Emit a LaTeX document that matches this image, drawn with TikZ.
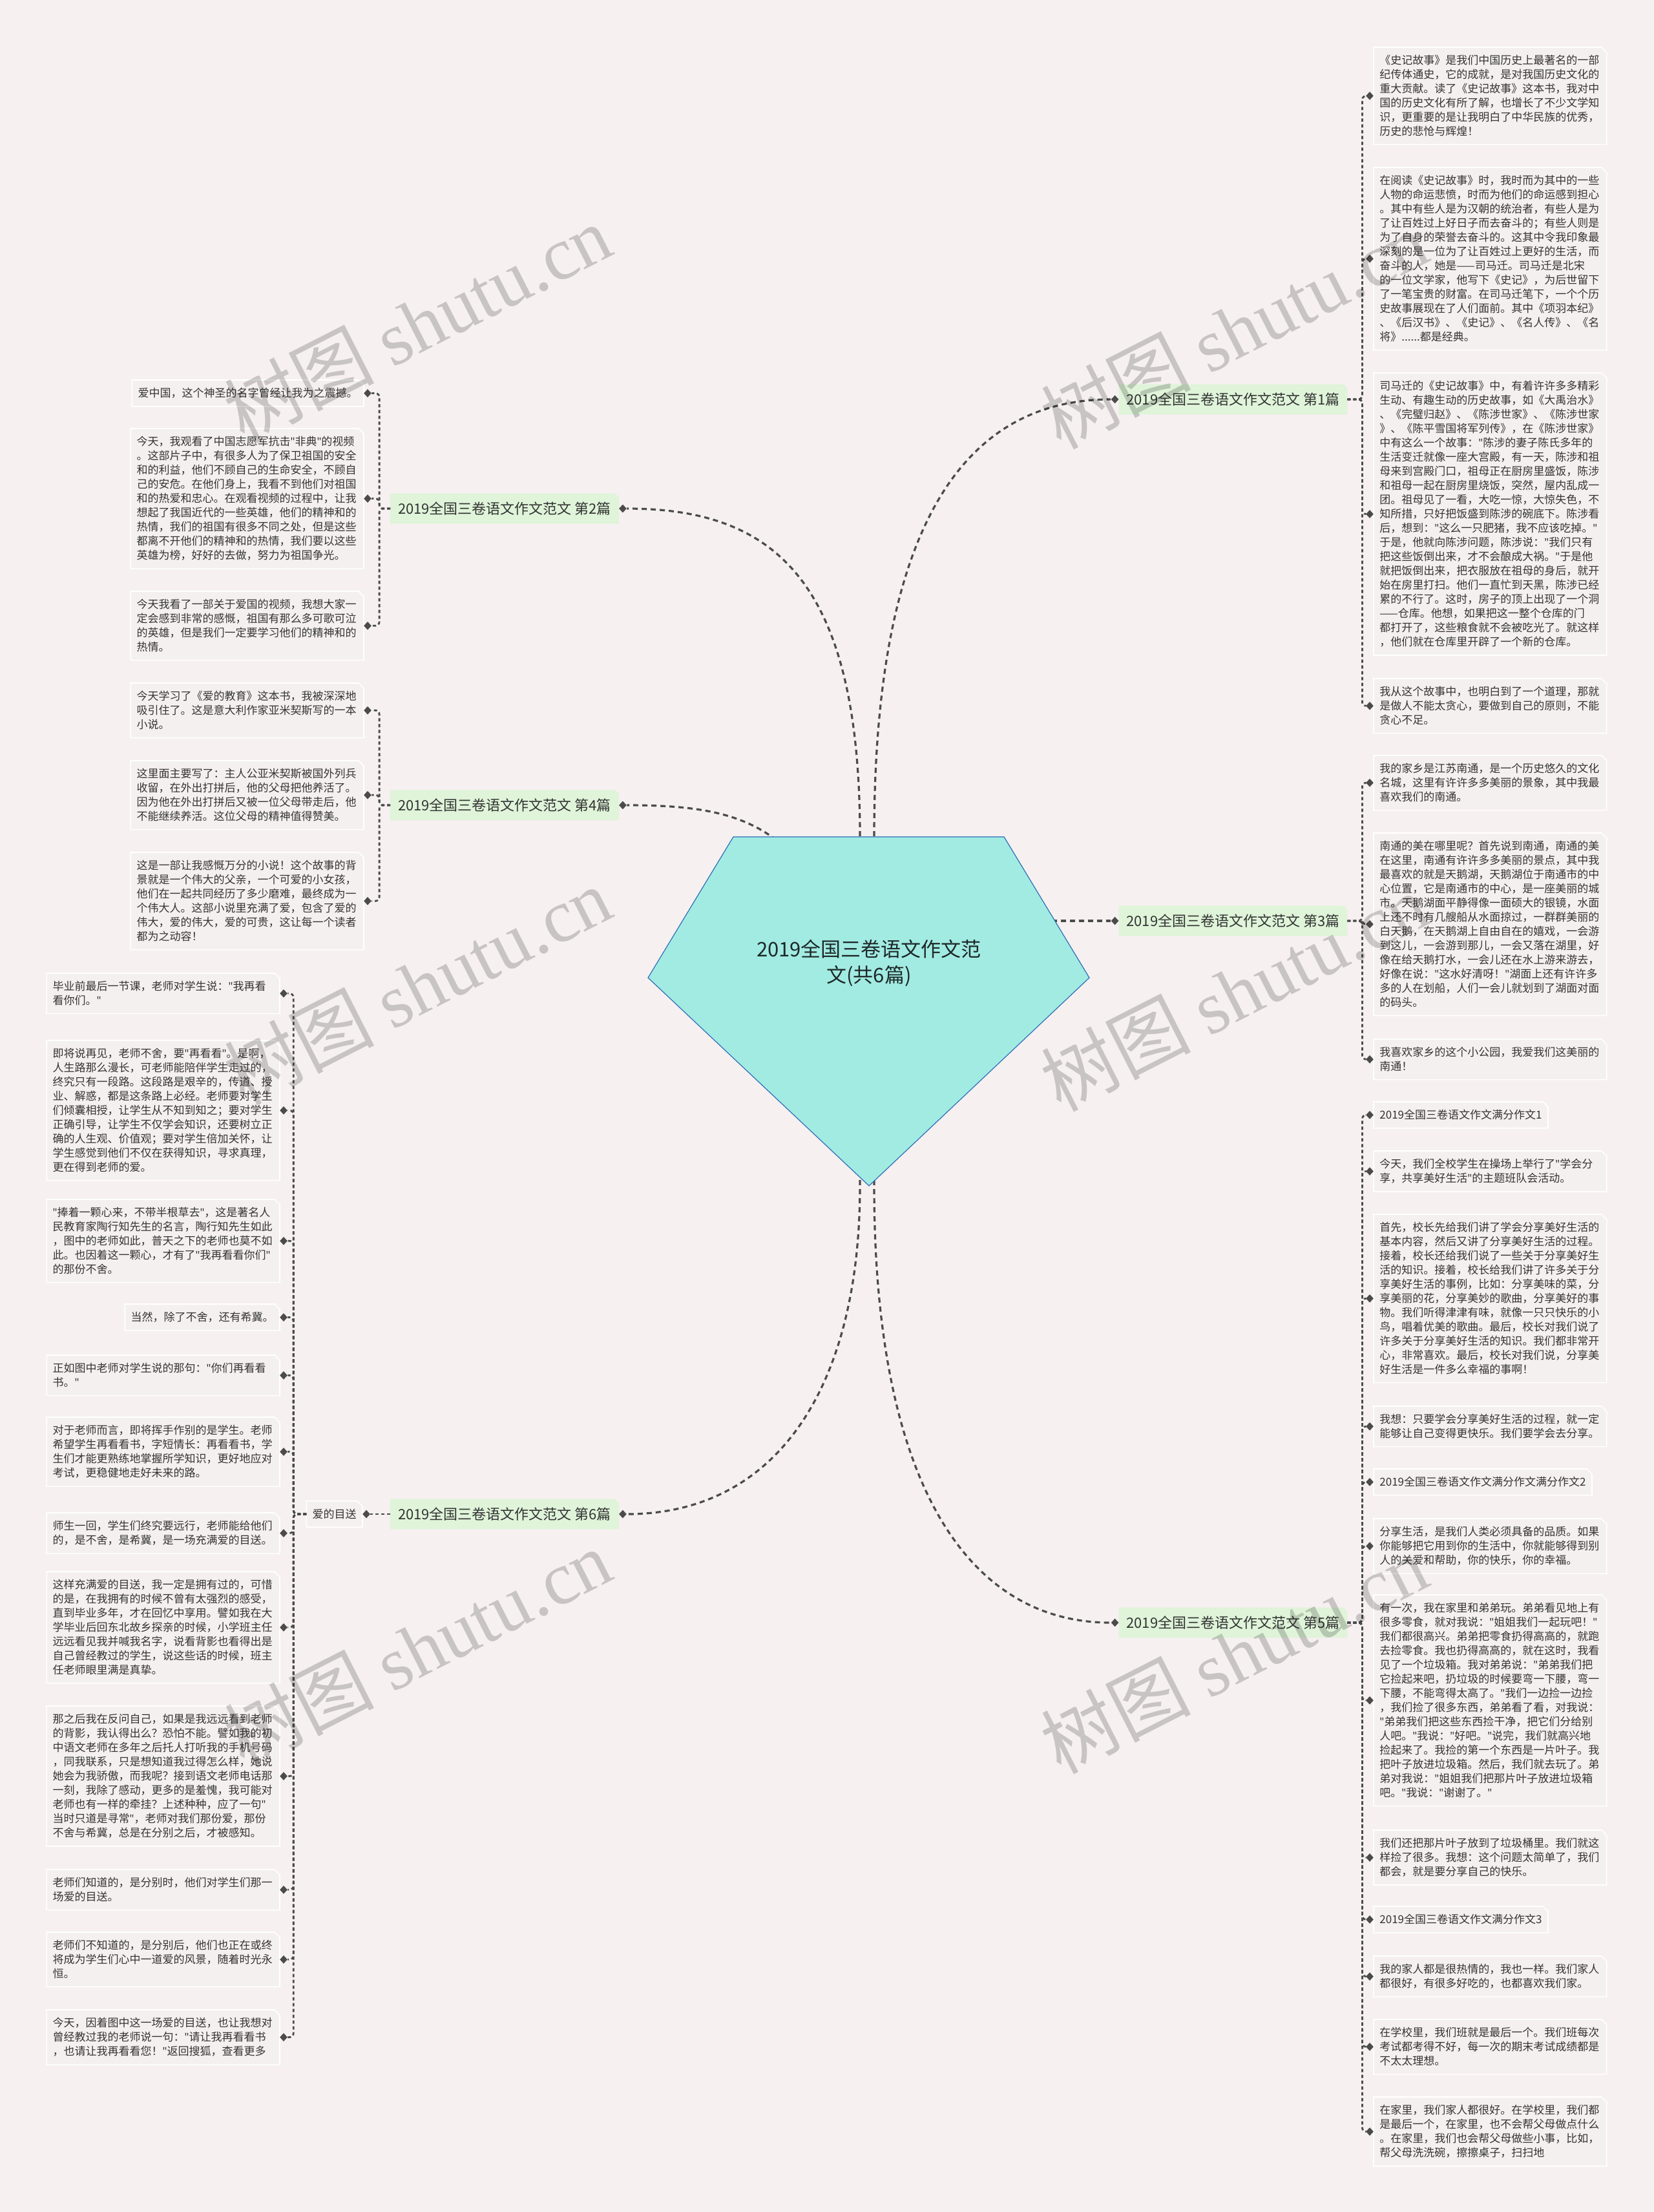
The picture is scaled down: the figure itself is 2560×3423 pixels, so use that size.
\documentclass[tikz,border=0pt]{standalone}
\usepackage{fontspec}
\setmainfont{Noto Sans CJK SC}
\newfontfamily\wmserif{Liberation Serif}
\newfontfamily\qfont{Noto Sans}
\newcommand\qq{{\qfont"}}
\usetikzlibrary{shapes.geometric,calc}
\definecolor{bgc}{RGB}{246,240,240}
\definecolor{boxc}{RGB}{245,240,240}
\definecolor{txt}{RGB}{51,51,51}
\definecolor{brc}{RGB}{223,244,217}
\definecolor{conc}{RGB}{75,75,75}
\definecolor{pentf}{RGB}{161,235,226}
\definecolor{pentd}{RGB}{46,110,184}
\pgfdeclarelayer{back}
\pgfsetlayers{back,main}
\newcommand\leaffont{\fontsize{8.5pt}{11pt}\selectfont}
\newcommand\brfont{\fontsize{11pt}{13pt}\selectfont}
\newcommand\rootfont{\fontsize{15.5pt}{20pt}\selectfont}
\newcommand\wmfont{\fontsize{58pt}{60pt}\selectfont}
\begin{document}
\begin{tikzpicture}[x=0.5pt,y=-0.5pt,
  leaf/.style={align=left, font=\leaffont, text=txt, inner xsep=4.5pt, inner ysep=6pt, text width=171pt},
  leafs/.style={align=left, font=\leaffont, text=txt, inner xsep=4.5pt, inner ysep=6pt},
  branch/.style={font=\brfont, text=txt, minimum width=176.5pt, minimum height=23pt, inner sep=0pt},
  dia/.style={diamond, fill=conc, inner sep=0pt, minimum width=6pt, minimum height=6.5pt},
  mconn/.style={draw=conc, line width=1.6pt, dash pattern=on 4pt off 3pt},
  lconn/.style={draw=conc, line width=1.4pt, dash pattern=on 2.5pt off 2pt, rounded corners=3pt},
  boxline/.style={fill=boxc, draw=white, line width=0.8pt},
  brbox/.style={fill=brc},
  wm/.style={text=black, text opacity=0.18, font=\wmfont}
]
\useasboundingbox (0,0) rectangle (2560,3423);
\begin{pgfonlayer}{back}
\fill[bgc] (0,0) rectangle (2560,3423);
\end{pgfonlayer}

% ---------- branch nodes ----------
\node[branch] (b1) at (1908.5,618) {2019全国三卷语文作文范文 第1篇};
\node[branch] (b2) at (781,787) {2019全国三卷语文作文范文 第2篇};
\node[branch] (b3) at (1908.5,1425) {2019全国三卷语文作文范文 第3篇};
\node[branch] (b4) at (781,1246) {2019全国三卷语文作文范文 第4篇};
\node[branch] (b5) at (1908.5,2511) {2019全国三卷语文作文范文 第5篇};
\node[branch] (b6) at (781,2343) {2019全国三卷语文作文范文 第6篇};
\node[leafs, anchor=east] (m6) at (561,2343) {爱的目送};

% ---------- right leaves: branch 1 ----------
\node[leaf, anchor=north west] (r1a) at (2126,73) {《史记故事》是我们中国历史上最著名的一部\\纪传体通史，它的成就，是对我国历史文化的\\重大贡献。读了《史记故事》这本书，我对中\\国的历史文化有所了解，也增长了不少文学知\\识，更重要的是让我明白了中华民族的优秀，\\历史的悲怆与辉煌！};
\node[leaf, anchor=north west] (r1b) at (2126,259) {在阅读《史记故事》时，我时而为其中的一些\\人物的命运悲愤，时而为他们的命运感到担心\\。其中有些人是为汉朝的统治者，有些人是为\\了让百姓过上好日子而去奋斗的；有些人则是\\为了自身的荣誉去奋斗的。这其中令我印象最\\深刻的是一位为了让百姓过上更好的生活，而\\奋斗的人，她是——司马迁。司马迁是北宋\\的一位文学家，他写下《史记》，为后世留下\\了一笔宝贵的财富。在司马迁笔下，一个个历\\史故事展现在了人们面前。其中《项羽本纪》\\、《后汉书》、《史记》、《名人传》、《名\\将》......都是经典。};
\node[leaf, anchor=north west] (r1c) at (2126,577) {司马迁的《史记故事》中，有着许许多多精彩\\生动、有趣生动的历史故事，如《大禹治水》\\、《完璧归赵》、《陈涉世家》、《陈涉世家\\》、《陈平雪国将军列传》，在《陈涉世家》\\中有这么一个故事：\qq{}陈涉的妻子陈氏多年的\\生活变迁就像一座大宫殿，有一天，陈涉和祖\\母来到宫殿门口，祖母正在厨房里盛饭，陈涉\\和祖母一起在厨房里烧饭，突然，屋内乱成一\\团。祖母见了一看，大吃一惊，大惊失色，不\\知所措，只好把饭盛到陈涉的碗底下。陈涉看\\后，想到：\qq{}这么一只肥猪，我不应该吃掉。\qq{}\\于是，他就向陈涉问题，陈涉说：\qq{}我们只有\\把这些饭倒出来，才不会酿成大祸。\qq{}于是他\\就把饭倒出来，把衣服放在祖母的身后，就开\\始在房里打扫。他们一直忙到天黑，陈涉已经\\累的不行了。这时，房子的顶上出现了一个洞\\——仓库。他想，如果把这一整个仓库的门\\都打开了，这些粮食就不会被吃光了。就这样\\，他们就在仓库里开辟了一个新的仓库。};
\node[leaf, anchor=north west] (r1d) at (2126,1050) {我从这个故事中，也明白到了一个道理，那就\\是做人不能太贪心，要做到自己的原则，不能\\贪心不足。};

% ---------- right leaves: branch 3 ----------
\node[leaf, anchor=north west] (r3a) at (2126,1169) {我的家乡是江苏南通，是一个历史悠久的文化\\名城，这里有许许多多美丽的景象，其中我最\\喜欢我们的南通。};
\node[leaf, anchor=north west] (r3b) at (2126,1289) {南通的美在哪里呢？首先说到南通，南通的美\\在这里，南通有许许多多美丽的景点，其中我\\最喜欢的就是天鹅湖，天鹅湖位于南通市的中\\心位置，它是南通市的中心，是一座美丽的城\\市。天鹅湖面平静得像一面硕大的银镜，水面\\上还不时有几艘船从水面掠过，一群群美丽的\\白天鹅，在天鹅湖上自由自在的嬉戏，一会游\\到这儿，一会游到那儿，一会又落在湖里，好\\像在给天鹅打水，一会儿还在水上游来游去，\\好像在说：\qq{}这水好清呀！\qq{}湖面上还有许许多\\多的人在划船，人们一会儿就划到了湖面对面\\的码头。};
\node[leaf, anchor=north west] (r3c) at (2126,1608) {我喜欢家乡的这个小公园，我爱我们这美丽的\\南通！};

% ---------- right leaves: branch 5 ----------
\node[leafs, anchor=north west] (r5a) at (2126,1705) {2019全国三卷语文作文满分作文1};
\node[leaf, anchor=north west] (r5b) at (2126,1781) {今天，我们全校学生在操场上举行了\qq{}学会分\\享，共享美好生活\qq{}的主题班队会活动。};
\node[leaf, anchor=north west] (r5c) at (2126,1879) {首先，校长先给我们讲了学会分享美好生活的\\基本内容，然后又讲了分享美好生活的过程。\\接着，校长还给我们说了一些关于分享美好生\\活的知识。接着，校长给我们讲了许多关于分\\享美好生活的事例，比如：分享美味的菜，分\\享美丽的花，分享美妙的歌曲，分享美好的事\\物。我们听得津津有味，就像一只只快乐的小\\鸟，唱着优美的歌曲。最后，校长对我们说了\\许多关于分享美好生活的知识。我们都非常开\\心，非常喜欢。最后，校长对我们说，分享美\\好生活是一件多么幸福的事啊！};
\node[leaf, anchor=north west] (r5d) at (2126,2176) {我想：只要学会分享美好生活的过程，就一定\\能够让自己变得更快乐。我们要学会去分享。};
\node[leafs, anchor=north west] (r5e) at (2126,2273) {2019全国三卷语文作文满分作文满分作文2};
\node[leaf, anchor=north west] (r5f) at (2126,2350) {分享生活，是我们人类必须具备的品质。如果\\你能够把它用到你的生活中，你就能够得到别\\人的关爱和帮助，你的快乐，你的幸福。};
\node[leaf, anchor=north west] (r5g) at (2126,2468) {有一次，我在家里和弟弟玩。弟弟看见地上有\\很多零食，就对我说：\qq{}姐姐我们一起玩吧！\qq{}\\我们都很高兴。弟弟把零食扔得高高的，就跑\\去捡零食。我也扔得高高的，就在这时，我看\\见了一个垃圾箱。我对弟弟说：\qq{}弟弟我们把\\它捡起来吧，扔垃圾的时候要弯一下腰，弯一\\下腰，不能弯得太高了。\qq{}我们一边捡一边捡\\，我们捡了很多东西，弟弟看了看，对我说：\\\qq{}弟弟我们把这些东西捡干净，把它们分给别\\人吧。\qq{}我说：\qq{}好吧。\qq{}说完，我们就高兴地\\捡起来了。我捡的第一个东西是一片叶子。我\\把叶子放进垃圾箱。然后，我们就去玩了。弟\\弟对我说：\qq{}姐姐我们把那片叶子放进垃圾箱\\吧。\qq{}我说：\qq{}谢谢了。\qq{}};
\node[leaf, anchor=north west] (r5h) at (2126,2832) {我们还把那片叶子放到了垃圾桶里。我们就这\\样捡了很多。我想：这个问题太简单了，我们\\都会，就是要分享自己的快乐。};
\node[leafs, anchor=north west] (r5i) at (2126,2950) {2019全国三卷语文作文满分作文3};
\node[leaf, anchor=north west] (r5j) at (2126,3027) {我的家人都是很热情的，我也一样。我们家人\\都很好，有很多好吃的，也都喜欢我们家。};
\node[leaf, anchor=north west] (r5k) at (2126,3125) {在学校里，我们班就是最后一个。我们班每次\\考试都考得不好，每一次的期末考试成绩都是\\不太太理想。};
\node[leaf, anchor=north west] (r5l) at (2126,3245) {在家里，我们家人都很好。在学校里，我们都\\是最后一个，在家里，也不会帮父母做点什么\\。在家里，我们也会帮父母做些小事，比如，\\帮父母洗洗碗，擦擦桌子，扫扫地};

% ---------- left leaves: branch 2 ----------
\node[leafs, anchor=north east] (l2a) at (563,588) {爱中国，这个神圣的名字曾经让我为之震撼。};
\node[leaf, anchor=north east] (l2b) at (563,663) {今天，我观看了中国志愿军抗击\qq{}非典\qq{}的视频\\。这部片子中，有很多人为了保卫祖国的安全\\和的利益，他们不顾自己的生命安全，不顾自\\己的安危。在他们身上，我看不到他们对祖国\\和的热爱和忠心。在观看视频的过程中，让我\\想起了我国近代的一些英雄，他们的精神和的\\热情，我们的祖国有很多不同之处，但是这些\\都离不开他们的精神和的热情，我们要以这些\\英雄为榜，好好的去做，努力为祖国争光。};
\node[leaf, anchor=north east] (l2c) at (563,915) {今天我看了一部关于爱国的视频，我想大家一\\定会感到非常的感慨，祖国有那么多可歌可泣\\的英雄，但是我们一定要学习他们的精神和的\\热情。};

% ---------- left leaves: branch 4 ----------
\node[leaf, anchor=north east] (l4a) at (563,1057) {今天学习了《爱的教育》这本书，我被深深地\\吸引住了。这是意大利作家亚米契斯写的一本\\小说。};
\node[leaf, anchor=north east] (l4b) at (563,1177) {这里面主要写了：主人公亚米契斯被国外列兵\\收留，在外出打拼后，他的父母把他养活了。\\因为他在外出打拼后又被一位父母带走后，他\\不能继续养活。这位父母的精神值得赞美。};
\node[leaf, anchor=north east] (l4c) at (563,1319) {这是一部让我感慨万分的小说！这个故事的背\\景就是一个伟大的父亲，一个可爱的小女孩，\\他们在一起共同经历了多少磨难，最终成为一\\个伟大人。这部小说里充满了爱，包含了爱的\\伟大，爱的伟大，爱的可贵，这让每一个读者\\都为之动容！};

% ---------- left leaves: branch 6 ----------
\node[leaf, anchor=north east] (l6a) at (433,1506) {毕业前最后一节课，老师对学生说：\qq{}我再看\\看你们。\qq{}};
\node[leaf, anchor=north east] (l6b) at (433,1610) {即将说再见，老师不舍，要\qq{}再看看\qq{}。是啊，\\人生路那么漫长，可老师能陪伴学生走过的，\\终究只有一段路。这段路是艰辛的，传道、授\\业、解惑，都是这条路上必经。老师要对学生\\们倾囊相授，让学生从不知到知之；要对学生\\正确引导，让学生不仅学会知识，还要树立正\\确的人生观、价值观；要对学生倍加关怀，让\\学生感觉到他们不仅在获得知识，寻求真理，\\更在得到老师的爱。};
\node[leaf, anchor=north east] (l6c) at (433,1856) {\qq{}捧着一颗心来，不带半根草去\qq{}，这是著名人\\民教育家陶行知先生的名言，陶行知先生如此\\，图中的老师如此，普天之下的老师也莫不如\\此。也因着这一颗心，才有了\qq{}我再看看你们\qq{}\\的那份不舍。};
\node[leafs, anchor=north east] (l6d) at (433,2018) {当然，除了不舍，还有希冀。};
\node[leaf, anchor=north east] (l6e) at (433,2097) {正如图中老师对学生说的那句：\qq{}你们再看看\\书。\qq{}};
\node[leaf, anchor=north east] (l6f) at (433,2193) {对于老师而言，即将挥手作别的是学生。老师\\希望学生再看看书，字短情长：再看看书，学\\生们才能更熟练地掌握所学知识，更好地应对\\考试，更稳健地走好未来的路。};
\node[leaf, anchor=north east] (l6g) at (433,2341) {师生一回，学生们终究要远行，老师能给他们\\的，是不舍，是希冀，是一场充满爱的目送。};
\node[leaf, anchor=north east] (l6h) at (433,2432) {这样充满爱的目送，我一定是拥有过的，可惜\\的是，在我拥有的时候不曾有太强烈的感受，\\直到毕业多年，才在回忆中享用。譬如我在大\\学毕业后回东北故乡探亲的时候，小学班主任\\远远看见我并喊我名字，说看背影也看得出是\\自己曾经教过的学生，说这些话的时候，班主\\任老师眼里满是真挚。};
\node[leaf, anchor=north east] (l6i) at (433,2640) {那之后我在反问自己，如果是我远远看到老师\\的背影，我认得出么？恐怕不能。譬如我的初\\中语文老师在多年之后托人打听我的手机号码\\，同我联系，只是想知道我过得怎么样，她说\\她会为我骄傲，而我呢？接到语文老师电话那\\一刻，我除了感动，更多的是羞愧，我可能对\\老师也有一样的牵挂？上述种种，应了一句\qq{}\\当时只道是寻常\qq{}，老师对我们那份爱，那份\\不舍与希冀，总是在分别之后，才被感知。};
\node[leaf, anchor=north east] (l6j) at (433,2893) {老师们知道的，是分别时，他们对学生们那一\\场爱的目送。};
\node[leaf, anchor=north east] (l6k) at (433,2990) {老师们不知道的，是分别后，他们也正在或终\\将成为学生们心中一道爱的风景，随着时光永\\恒。};
\node[leaf, anchor=north east] (l6l) at (433,3110) {今天，因着图中这一场爱的目送，也让我想对\\曾经教过我的老师说一句：\qq{}请让我再看看书\\，也请让我再看看您！\qq{}返回搜狐，查看更多};

% ---------- box shapes ----------
\begin{pgfonlayer}{back}
\foreach \n in {b1,b2,b3,b4,b5,b6}
  \path[brbox] (\n.south west) -- (\n.south east) -- ([yshift=-3pt]\n.north east) -- ([xshift=-3pt]\n.north east) -- (\n.north west) -- cycle;
\foreach \n in {m6,r1a,r1b,r1c,r1d,r3a,r3b,r3c,r5a,r5b,r5c,r5d,r5e,r5f,r5g,r5h,r5i,r5j,r5k,r5l,l2a,l2b,l2c,l4a,l4b,l4c,l6a,l6b,l6c,l6d,l6e,l6f,l6g,l6h,l6i,l6j,l6k,l6l}
  \path[boxline] (\n.south west) -- (\n.south east) -- ([yshift=-4pt]\n.north east) -- ([xshift=-4pt]\n.north east) -- (\n.north west) -- cycle;
\end{pgfonlayer}

% ---------- diamonds ----------
\foreach \n in {b1,b3,b5} \node[dia] (d\n) at ([xshift=-3pt]\n.west) {};
\foreach \n in {b2,b4,b6,m6} \node[dia] (d\n) at ([xshift=3pt]\n.east) {};
\foreach \n in {r1a,r1b,r1c,r1d,r3a,r3b,r3c,r5a,r5b,r5c,r5d,r5e,r5f,r5g,r5h,r5i,r5j,r5k,r5l}
  \node[dia] (d\n) at ([xshift=-3pt]\n.west) {};
\foreach \n in {l2a,l2b,l2c,l4a,l4b,l4c,l6a,l6b,l6c,l6d,l6e,l6f,l6g,l6h,l6i,l6j,l6k,l6l}
  \node[dia] (d\n) at ([xshift=3pt]\n.east) {};

% ---------- main connectors ----------
\coordinate (sr) at (1353,1490);
\coordinate (sl) at (1331,1490);
\coordinate (s4) at (1250,1350);
\coordinate (s3) at (1600,1425);
\draw[mconn] (sr) -- (1353,1295) .. controls (1353,800) and (1500,618) .. (db1.west);
\draw[mconn] (sl) -- (1331,1295) .. controls (1331,900) and (1200,787) .. (db2.east);
\draw[mconn] (s4) .. controls (1185,1262) and (1100,1246) .. (db4.east);
\draw[mconn] (s3) -- (db3.west);
\draw[mconn] (sr) -- (1353,1835) .. controls (1353,2300) and (1500,2511) .. (db5.west);
\draw[mconn] (sl) -- (1331,1835) .. controls (1331,2150) and (1200,2343) .. (db6.east);

% ---------- central pentagon ----------
\coordinate (p1) at (1135,1295);
\coordinate (p2) at (1554,1295);
\coordinate (p3) at (1686,1513);
\coordinate (p4) at (1345,1835);
\coordinate (p5) at (1003,1513);
\filldraw[fill=pentf, draw=pentd, line width=0.6pt] (p1) -- (p2) -- (p3) -- (p4) -- (p5) -- cycle;
\node[font=\rootfont, text={rgb,255:red,30;green,40;blue,40}, align=center] (root) at (1345,1490) {2019全国三卷语文作文范\\文(共6篇)};

% ---------- leaf connectors ----------
\foreach \n in {r1a,r1b,r1c,r1d} \draw[lconn] (b1.east) -- ++(11.5pt,0) |- (d\n.west);
\foreach \n in {r3a,r3b,r3c} \draw[lconn] (b3.east) -- ++(11.5pt,0) |- (d\n.west);
\foreach \n in {r5a,r5b,r5c,r5d,r5e,r5f,r5g,r5h,r5i,r5j,r5k,r5l} \draw[lconn] (b5.east) -- ++(11.5pt,0) |- (d\n.west);
\foreach \n in {l2a,l2b,l2c} \draw[lconn] (b2.west) -- ++(-8.5pt,0) |- (d\n.east);
\foreach \n in {l4a,l4b,l4c} \draw[lconn] (b4.west) -- ++(-8.5pt,0) |- (d\n.east);
\draw[lconn] (b6.west) -- (dm6.east);
\foreach \n in {l6a,l6b,l6c,l6d,l6e,l6f,l6g,l6h,l6i,l6j,l6k,l6l} \draw[lconn] (m6.west) -- ++(-10pt,0) |- (d\n.east);

% ---------- watermark ----------
\node[wm, rotate=27] (w1) at (646,500) {树图 {\wmserif shutu.cn}};
\node[wm, rotate=27] (w2) at (1910,510) {树图 {\wmserif shutu.cn}};
\node[wm, rotate=27] (w3) at (646,1525) {树图 {\wmserif shutu.cn}};
\node[wm, rotate=27] (w4) at (1910,1535) {树图 {\wmserif shutu.cn}};
\node[wm, rotate=27] (w5) at (646,2550) {树图 {\wmserif shutu.cn}};
\node[wm, rotate=27] (w6) at (1910,2560) {树图 {\wmserif shutu.cn}};
\node[wm, rotate=27] (w7) at (646,3575) {树图 {\wmserif shutu.cn}};
\node[wm, rotate=27] (w8) at (1910,3585) {树图 {\wmserif shutu.cn}};
\end{tikzpicture}
\end{document}
